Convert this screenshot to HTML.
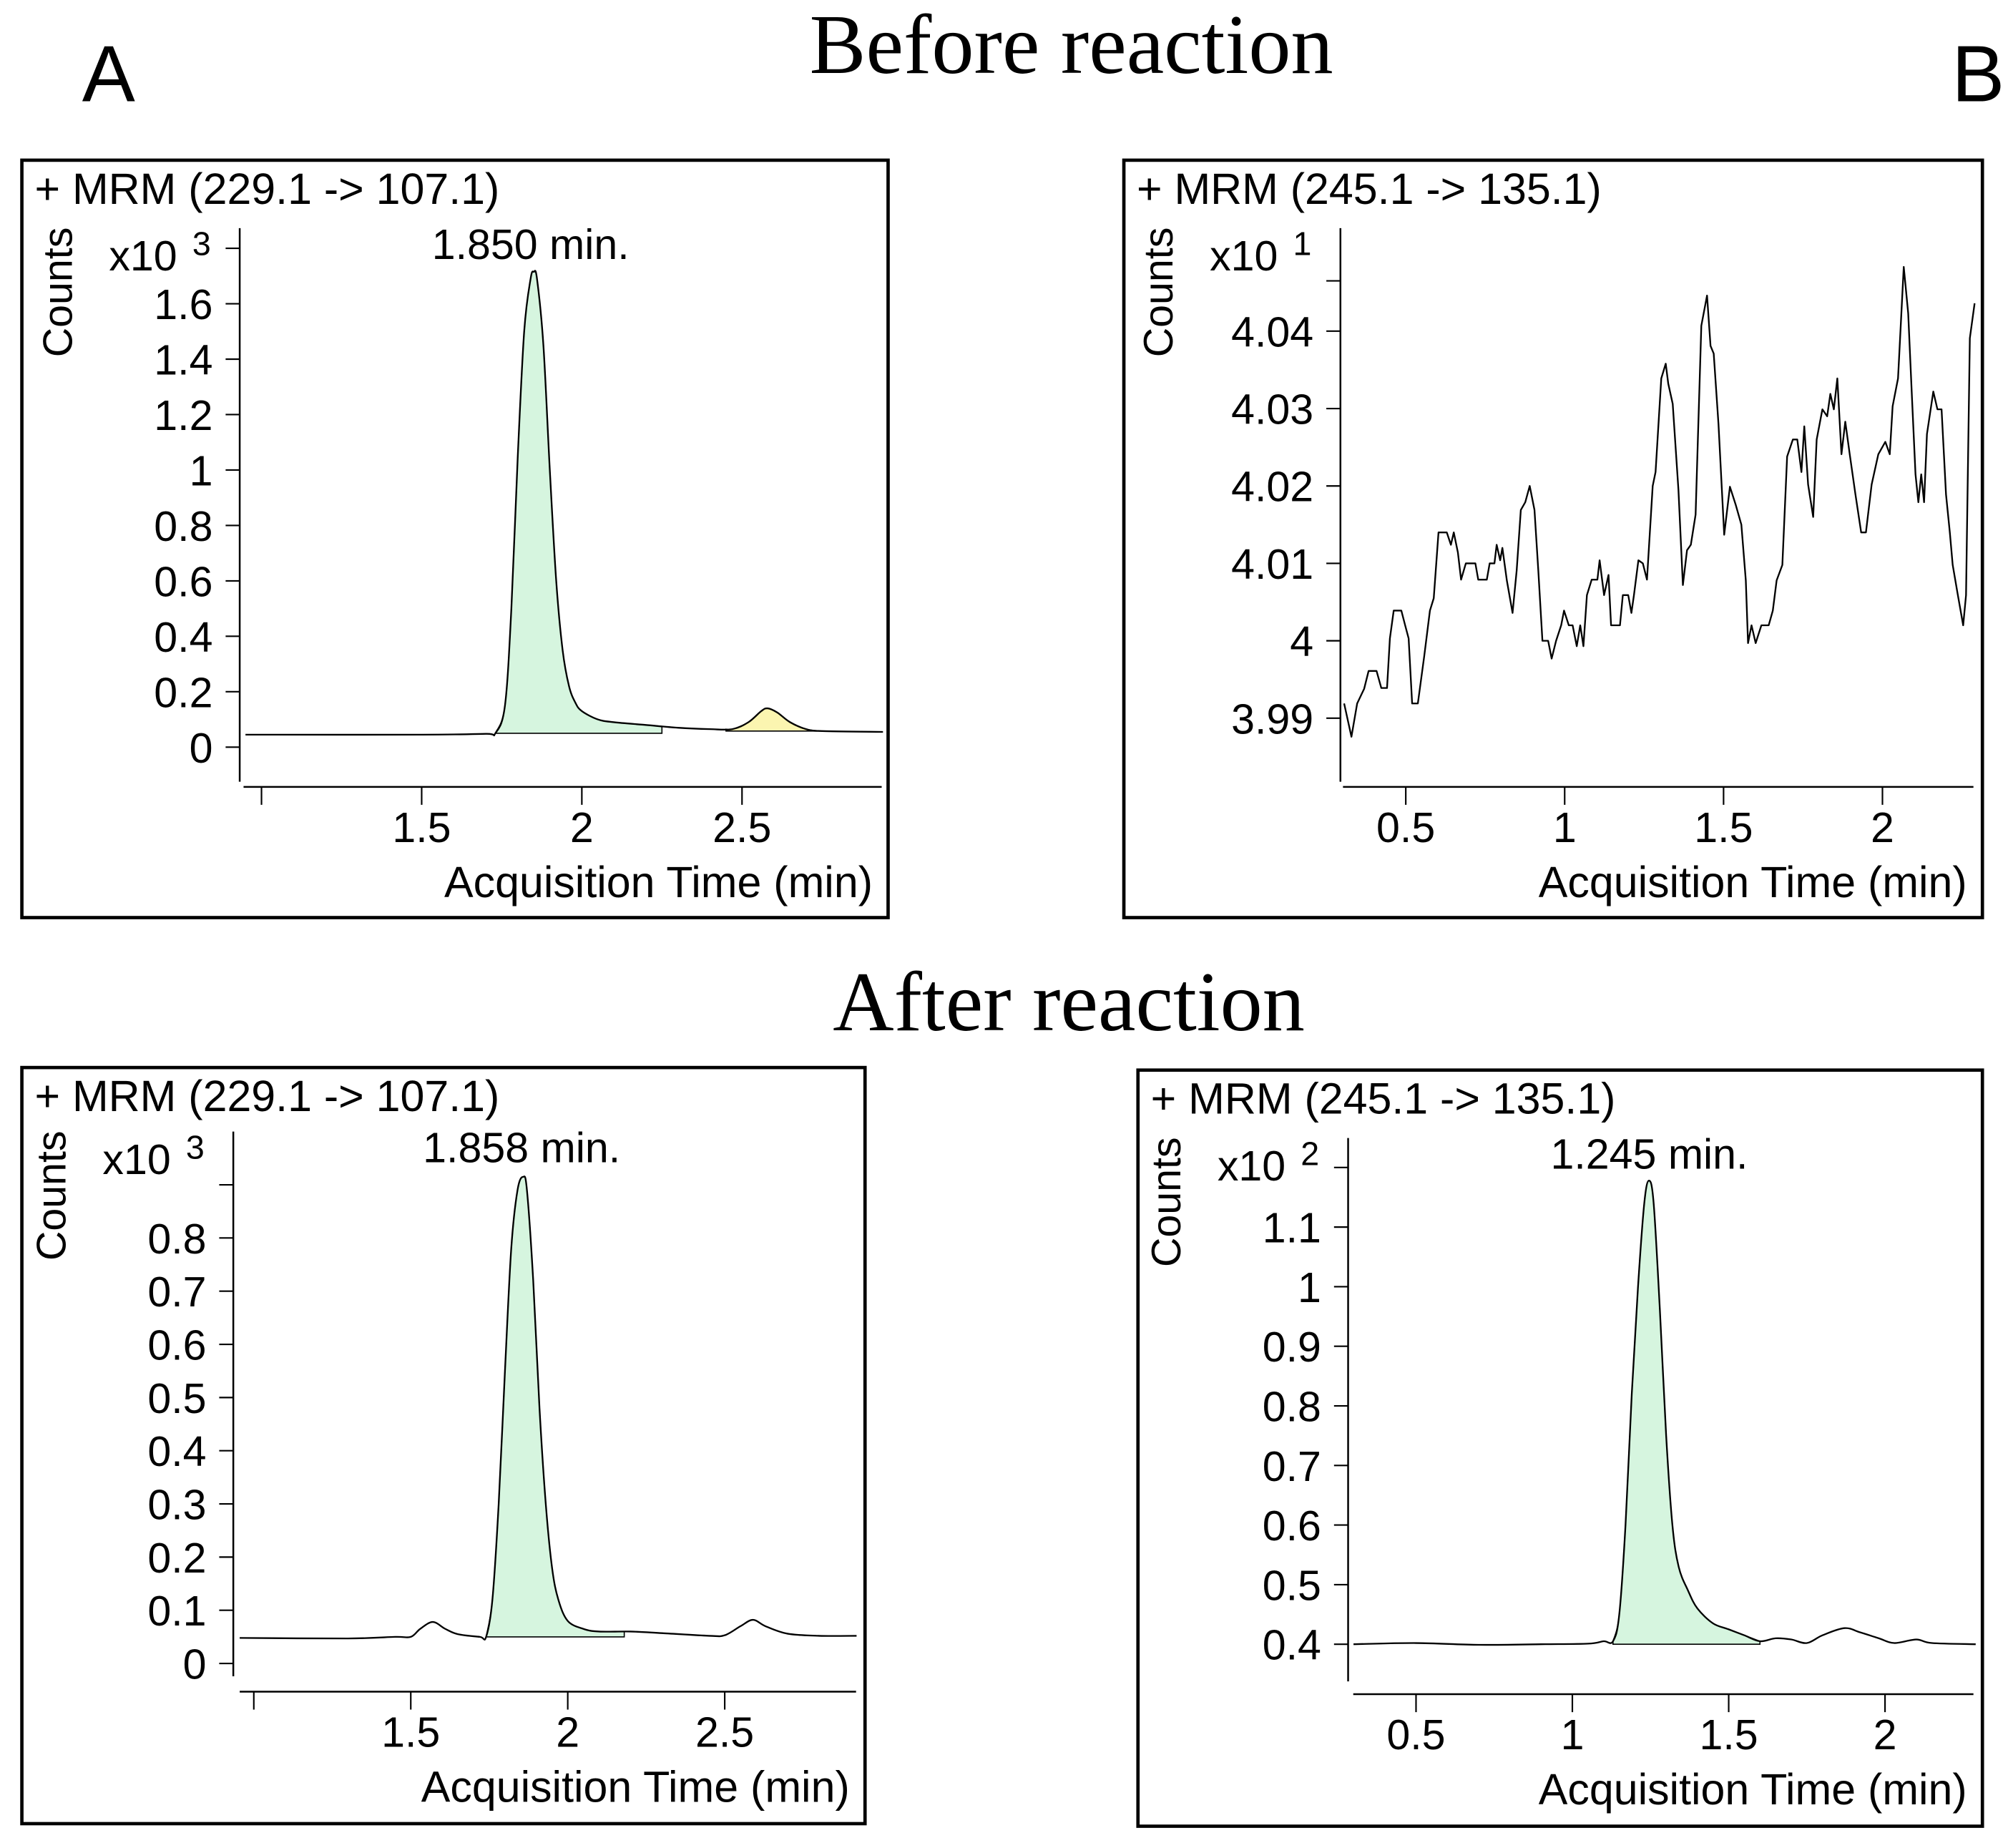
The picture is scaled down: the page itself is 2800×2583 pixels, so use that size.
<!DOCTYPE html>
<html><head><meta charset="utf-8">
<style>
html,body{margin:0;padding:0;background:#fff;}
svg{display:block;}
text{font-family:"Liberation Sans",sans-serif;fill:#000;}
</style></head>
<body>
<svg id="fig" width="2800" height="2583" viewBox="0 0 1563 1442" xmlns="http://www.w3.org/2000/svg">
<text x="64" y="79" font-size="62">A</text>
<text x="1523" y="79" font-size="62">B</text>
<text x="836" y="57" font-size="66" text-anchor="middle" style="font-family:'Liberation Serif',serif">Before reaction</text>
<text x="834" y="804" font-size="66" text-anchor="middle" style="font-family:'Liberation Serif',serif">After reaction</text>
<g id="panels"></g>
</svg>
<script>
// Top-left: 229.1->107.1 before reaction
const tlTimes  = [0.95,1.5,1.70,1.73,1.76,1.78,1.80,1.82,1.84,1.85,1.86,1.88,1.90,1.92,1.94,1.96,1.98,2.0,2.05,2.1,2.2,2.3,2.4,2.47,2.52,2.56,2.58,2.61,2.65,2.70,2.75,2.94];
const tlCounts = [0.045,0.045,0.048,0.05,0.15,0.5,1.05,1.5,1.69,1.715,1.69,1.45,1.0,0.6,0.35,0.22,0.16,0.13,0.1,0.09,0.08,0.07,0.065,0.065,0.09,0.13,0.14,0.125,0.09,0.065,0.058,0.055];
const tlYTicks = [0,0.2,0.4,0.6,0.8,1,1.2,1.4,1.6];
const tlXTicks = [1,1.5,2,2.5];
// Top-right: 245.1->135.1 before reaction (noise)
const trTimes  = [0.306,0.329,0.347,0.369,0.383,0.408,0.423,0.441,0.450,0.462,0.486,0.498,0.509,0.520,0.538,0.558,0.576,0.588,0.603,0.629,0.642,0.651,0.664,0.674,0.689,0.719,0.728,0.755,0.764,0.779,0.786,0.797,0.804,0.818,0.836,0.849,0.862,0.876,0.890,0.905,0.917,0.930,0.948,0.959,0.973,0.989,0.998,1.013,1.025,1.038,1.049,1.059,1.070,1.085,1.103,1.110,1.124,1.138,1.146,1.174,1.183,1.200,1.210,1.218,1.232,1.246,1.259,1.277,1.286,1.304,1.318,1.326,1.340,1.358,1.372,1.385,1.397,1.412,1.430,1.448,1.459,1.469,1.484,1.502,1.520,1.538,1.556,1.570,1.577,1.588,1.601,1.619,1.642,1.655,1.667,1.685,1.700,1.718,1.732,1.745,1.754,1.766,1.782,1.793,1.811,1.826,1.836,1.847,1.858,1.871,1.883,1.897,1.915,1.933,1.948,1.966,1.987,2.009,2.023,2.032,2.049,2.067,2.081,2.092,2.104,2.113,2.122,2.131,2.140,2.160,2.173,2.186,2.200,2.212,2.221,2.236,2.254,2.263,2.275,2.290];
const trCounts = [3.9919,3.9876,3.9919,3.9938,3.9961,3.9961,3.9939,3.9939,4.0003,4.0039,4.0039,4.0020,4.0003,3.9919,3.9919,3.9980,4.0039,4.0055,4.0140,4.0140,4.0124,4.0140,4.0114,4.0079,4.0100,4.0100,4.0079,4.0079,4.0100,4.0100,4.0124,4.0104,4.0120,4.0078,4.0036,4.0091,4.0169,4.0179,4.0200,4.0169,4.0091,4.0000,4.0000,3.9977,4.0000,4.0020,4.0039,4.0020,4.0020,3.9993,4.0020,3.9993,4.0059,4.0079,4.0079,4.0104,4.0059,4.0085,4.0020,4.0020,4.0059,4.0059,4.0036,4.0059,4.0104,4.0100,4.0079,4.0200,4.0218,4.0339,4.0358,4.0332,4.0306,4.0195,4.0072,4.0117,4.0124,4.0163,4.0407,4.0446,4.0381,4.0371,4.0280,4.0137,4.0199,4.0176,4.0150,4.0078,3.9997,4.0020,3.9997,4.0020,4.0020,4.0039,4.0078,4.0098,4.0238,4.0260,4.0260,4.0218,4.0277,4.0202,4.0160,4.0260,4.0299,4.0290,4.0319,4.0299,4.0339,4.0241,4.0283,4.0241,4.0189,4.0140,4.0140,4.0202,4.0241,4.0257,4.0241,4.0303,4.0339,4.0483,4.0423,4.0322,4.0215,4.0179,4.0215,4.0179,4.0267,4.0322,4.0299,4.0299,4.0189,4.0140,4.0098,4.0062,4.0020,4.0059,4.0391,4.0436];
const trYTicks = [3.99,4,4.01,4.02,4.03,4.04];
const trXTicks = [0.5,1,1.5,2];
// Bottom-left: 229.1->107.1 after reaction
const blTimes  = [0.955,1.3,1.45,1.5,1.53,1.57,1.61,1.65,1.72,1.74,1.76,1.78,1.80,1.82,1.84,1.858,1.87,1.89,1.91,1.93,1.95,1.97,2.0,2.05,2.1,2.2,2.3,2.45,2.5,2.55,2.59,2.63,2.7,2.8,2.92];
const blCounts = [0.048,0.047,0.05,0.05,0.065,0.078,0.065,0.055,0.05,0.05,0.12,0.3,0.55,0.78,0.89,0.915,0.89,0.72,0.48,0.3,0.18,0.12,0.08,0.065,0.06,0.06,0.057,0.052,0.053,0.07,0.082,0.07,0.056,0.052,0.052];
const blYTicks = [0,0.1,0.2,0.3,0.4,0.5,0.6,0.7,0.8];
const blXTicks = [1,1.5,2,2.5];
// Bottom-right: 245.1->135.1 after reaction
const brTimes  = [0.3,0.5,0.7,0.9,1.05,1.1,1.13,1.15,1.17,1.19,1.21,1.23,1.245,1.26,1.28,1.30,1.32,1.34,1.37,1.40,1.45,1.5,1.55,1.6,1.65,1.7,1.75,1.8,1.87,1.92,1.98,2.03,2.1,2.15,2.29];
const brCounts = [0.40,0.402,0.399,0.40,0.401,0.405,0.405,0.45,0.6,0.82,1.0,1.14,1.178,1.14,0.96,0.75,0.6,0.53,0.49,0.46,0.435,0.425,0.415,0.405,0.41,0.408,0.402,0.415,0.427,0.42,0.41,0.402,0.408,0.402,0.40];
const brYTicks = [0.4,0.5,0.6,0.7,0.8,0.9,1,1.1];
const brXTicks = [0.5,1,1.5,2];

const NS="http://www.w3.org/2000/svg";
const root=document.getElementById('panels');
function mk(tag,attrs,parent){const e=document.createElementNS(NS,tag);for(const k in attrs)e.setAttribute(k,attrs[k]);(parent||root).appendChild(e);return e;}
function interp(ts,vs,t){for(let i=0;i<ts.length-1;i++){if(t>=ts[i]&&t<=ts[i+1]){const f=(t-ts[i])/(ts[i+1]-ts[i]);return vs[i]+f*(vs[i+1]-vs[i]);}}return vs[vs.length-1];}
function smoothPath(pts){
  let d='M'+pts[0][0]+','+pts[0][1];
  for(let i=0;i<pts.length-1;i++){
    const p0=pts[Math.max(0,i-1)],p1=pts[i],p2=pts[i+1],p3=pts[Math.min(pts.length-1,i+2)];
    const c1x=p1[0]+(p2[0]-p0[0])/6,c1y=p1[1]+(p2[1]-p0[1])/6;
    const c2x=p2[0]-(p3[0]-p1[0])/6,c2y=p2[1]-(p3[1]-p1[1])/6;
    d+=' C'+c1x+','+c1y+' '+c2x+','+c2y+' '+p2[0]+','+p2[1];
  }
  return d;
}
function linePath(pts){return 'M'+pts.map(q=>q.join(',')).join(' L');}

function panel(p){
  const g=mk('g',{});
  
  
  const X=t=>p.xa+(t-p.ta)*p.kx, Y=v=>p.ya-(v-p.va)*p.ky;
  const box=mk('rect',{x:p.bx,y:p.by,width:p.bw,height:p.bh,fill:'none',stroke:'#000','stroke-width':2.6},g);
  
  
  const lab=mk('text',{x:p.bx+10,y:p.by+34,'font-size':34},g);lab.textContent=p.label;
  
  
  const cy=p.yTop+50;
  const cnt=mk('text',{x:p.yaxX-131,y:cy,'font-size':32,'text-anchor':'middle',transform:`rotate(-90 ${p.yaxX-131} ${cy})`},g);cnt.textContent='Counts';
  
  
  const xt=mk('text',{x:p.yaxX-102,y:p.yTop+33,'font-size':33},g);xt.textContent='x10';
  
  
  const sup=mk('text',{x:p.yaxX-37,y:p.yTop+21,'font-size':26},g);sup.textContent=p.exp;
  
  
  const ya=mk('line',{x1:p.yaxX,y1:p.yTop,x2:p.yaxX,y2:p.yBot,stroke:'#000','stroke-width':1.4},g);
  
  
  const xa=mk('line',{x1:p.xL,y1:p.xaxY,x2:p.xR,y2:p.xaxY,stroke:'#000','stroke-width':1.4},g);
  
  
  const allY=p.yTicks.concat([p.topTick]);
  allY.forEach((v,i)=>{
    const tk=mk('line',{x1:p.yaxX-11,y1:Y(v),x2:p.yaxX,y2:Y(v),stroke:'#000','stroke-width':1.2},g);
    
    
    if(i<p.yTicks.length){
      const t=mk('text',{x:p.yaxX-21,y:Y(v)+12,'font-size':33,'text-anchor':'end'},g);t.textContent=String(v);
      
      
    }
  });
  p.xTicks.forEach(v=>{
    const tk=mk('line',{x1:X(v),y1:p.xaxY,x2:X(v),y2:p.xaxY+14,stroke:'#000','stroke-width':1.2},g);
    
    
    if(v!==1||p.label1){
      const t=mk('text',{x:X(v),y:p.xaxY+43,'font-size':33,'text-anchor':'middle'},g);t.textContent=String(v);
      
      
    }
  });
  const at=mk('text',{x:p.bx+p.bw-12,y:p.xaxY+86,'font-size':34,'text-anchor':'end'},g);at.textContent='Acquisition Time (min)';
  
  
  const mkPath=p.smooth?smoothPath:linePath;
  (p.fills||[]).forEach(f=>{
    let pts=[[X(f.t0),Y(interp(p.ts,p.vs,f.t0))]];
    p.ts.forEach((t,i)=>{if(t>f.t0&&t<f.t1)pts.push([X(t),Y(p.vs[i])]);});
    pts.push([X(f.t1),Y(interp(p.ts,p.vs,f.t1))]);
    const d=mkPath(pts)+' L'+X(f.t1)+','+Y(f.base)+' L'+X(f.t0)+','+Y(f.base)+' Z';
    const pg=mk('path',{d:d,fill:f.color,stroke:'#000','stroke-width':0.9},g);
    
    
  });
  const line=mk('path',{d:mkPath(p.ts.map((t,i)=>[X(t),Y(p.vs[i])])),fill:'none',stroke:'#000','stroke-width':1.3,'stroke-linejoin':'round'},g);
  
  
  if(p.peakLabel){
    const pl=mk('text',{x:p.plX,y:p.yTop+24,'font-size':33,'text-anchor':'middle'},g);pl.textContent=p.peakLabel;
    
    
  }
}

panel({name:'panel-before-229',bx:17,by:125,bw:676,bh:591,label:'+ MRM (229.1 -> 107.1)',exp:'3',smooth:true,
  xa:204,ta:1,kx:250,ya:583,va:0,ky:216.25,yaxX:187,yTop:178,yBot:610,xaxY:614,xL:190,xR:688,
  yTicks:tlYTicks,topTick:1.8,xTicks:tlXTicks,ts:tlTimes,vs:tlCounts,
  fills:[{t0:1.73,t1:2.25,base:0.05,color:'#d6f5df'},{t0:2.45,t1:2.75,base:0.058,color:'#fbf5b0'}],
  peakLabel:'1.850 min.',plX:414});
panel({name:'panel-before-245',bx:877,by:125,bw:670,bh:591,label:'+ MRM (245.1 -> 135.1)',exp:'1',
  xa:1097,ta:0.5,kx:248,ya:500,va:4,ky:6040,yaxX:1046,yTop:178,yBot:610,xaxY:614,xL:1048,xR:1540,label1:true,
  yTicks:trYTicks,topTick:4.0465,xTicks:trXTicks,ts:trTimes,vs:trCounts,fills:[]});
panel({name:'panel-after-229',bx:17,by:833,bw:658,bh:590,label:'+ MRM (229.1 -> 107.1)',exp:'3',smooth:true,
  xa:443,ta:2,kx:245,ya:1298,va:0,ky:415,yaxX:182,yTop:883,yBot:1308,xaxY:1320,xL:187,xR:668,
  yTicks:blYTicks,topTick:0.9,xTicks:blXTicks,ts:blTimes,vs:blCounts,
  fills:[{t0:1.74,t1:2.18,base:0.05,color:'#d6f5df'}],peakLabel:'1.858 min.',plX:407});
panel({name:'panel-after-245',bx:888,by:835,bw:659,bh:590,label:'+ MRM (245.1 -> 135.1)',exp:'2',smooth:true,
  xa:1227,ta:1,kx:244,ya:1283,va:0.4,ky:465,yaxX:1052,yTop:888,yBot:1312,xaxY:1322,xL:1056,xR:1540,label1:true,
  yTicks:brYTicks,topTick:1.2,xTicks:brXTicks,ts:brTimes,vs:brCounts,
  fills:[{t0:1.13,t1:1.6,base:0.4,color:'#d6f5df'}],peakLabel:'1.245 min.',plX:1287});
</script>
</body></html>
